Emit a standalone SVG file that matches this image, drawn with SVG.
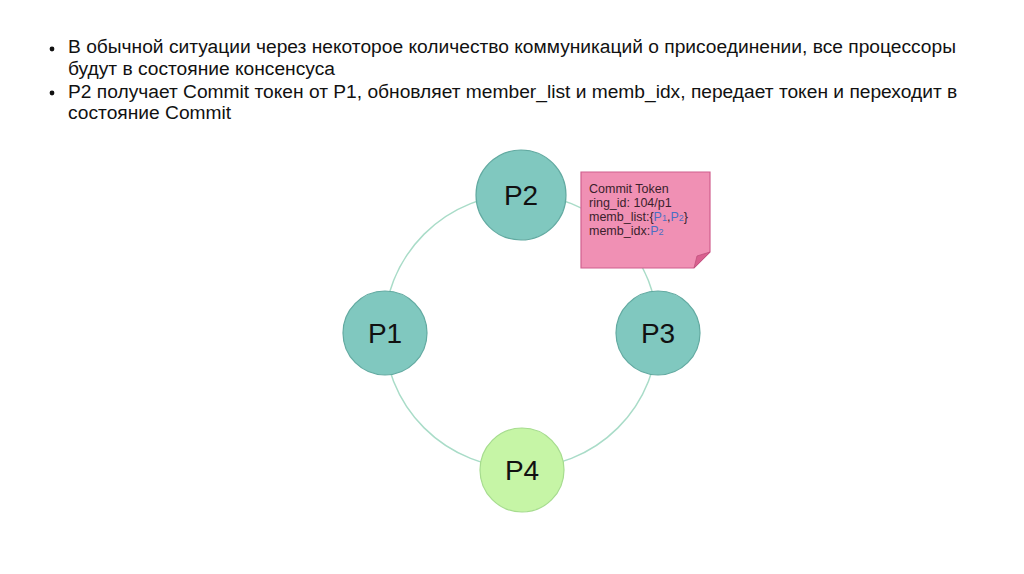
<svg xmlns="http://www.w3.org/2000/svg" width="1024" height="574" viewBox="0 0 1024 574">
<style>
.t{font-family:"Liberation Sans",Arial,sans-serif;font-size:19.2px;fill:#111}
.node{fill:#80c8bf;stroke:#62aaa1;stroke-width:1.2}
.nodeg{fill:#c6f5a6;stroke:#a6dc8e;stroke-width:1.2}
.lbl{font-family:"Liberation Sans",Arial,sans-serif;font-size:28px;fill:#111;text-anchor:middle}
.ring{fill:none;stroke:#a9dcc8;stroke-width:1.5}
.nt{font-family:"Liberation Sans",Arial,sans-serif;font-size:12.5px;fill:#3a1f2c}
.bl{fill:#4a6fc4}
</style>
<rect width="1024" height="574" fill="#fff"/>
<g id="text">
<circle cx="52" cy="49" r="2.4" fill="#111"/>
<text class="t" x="68" y="53">В обычной ситуации через некоторое количество коммуникаций о присоединении, все процессоры</text>
<text class="t" x="68" y="75">будут в состояние консенсуса</text>
<circle cx="52" cy="93" r="2.4" fill="#111"/>
<text class="t" x="68" y="98">P2 получает Commit токен от P1, обновляет member_list и memb_idx, передает токен и переходит в</text>
<text class="t" x="68" y="119">состояние Commit</text>
</g>
<g id="connectors">
<path class="ring" d="M384,331 A137,137 0 0 1 521,194"/>
<path class="ring" d="M521,194 A137,137 0 0 1 658,331"/>
<path class="ring" d="M658,331 A137,137 0 0 1 521,468"/>
<path class="ring" d="M521,468 A137,137 0 0 1 384,331"/>
</g>
<g id="P2"><circle class="node" cx="521" cy="195" r="45"/><text class="lbl" x="521" y="205">P2</text></g>
<g id="P1"><circle class="node" cx="385" cy="333" r="42"/><text class="lbl" x="385" y="343">P1</text></g>
<g id="P3"><circle class="node" cx="658" cy="333" r="42"/><text class="lbl" x="658" y="343">P3</text></g>
<g id="P4"><circle class="nodeg" cx="522" cy="470" r="42"/><text class="lbl" x="522" y="480">P4</text></g>
<g id="note">
<path d="M581,172 H710 V252 L694,268 H581 Z" fill="#f090b4" stroke="#d05f8e" stroke-width="1.2"/>
<path d="M710,252 L694,268 L697,256 Z" fill="#d9608f" stroke="#c0507e" stroke-width="0.8"/>
<text class="nt" x="589" y="193">Commit Token</text>
<text class="nt" x="589" y="207">ring_id: 104/p1</text>
<text class="nt" x="589" y="221">memb_list:{<tspan class="bl">P</tspan><tspan class="bl" font-size="9">1</tspan>,<tspan class="bl">P</tspan><tspan class="bl" font-size="9">2</tspan>}</text>
<text class="nt" x="589" y="235">memb_idx:<tspan class="bl">P</tspan><tspan class="bl" font-size="9">2</tspan></text>
</g>
</svg>
